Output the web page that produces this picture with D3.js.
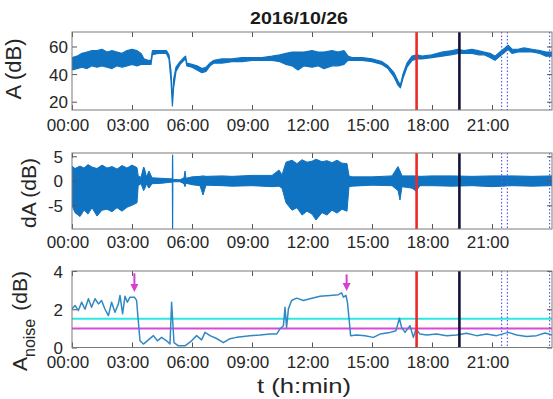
<!DOCTYPE html>
<html><head><meta charset="utf-8">
<script src="https://cdn.jsdelivr.net/npm/d3@7"></script>
<style>
body{margin:0;background:#fff}
svg{display:block}
text{font-family:"Liberation Sans",Arial,Helvetica,sans-serif}
</style>
</head><body>
<svg id="chart" width="553" height="399"></svg>
<script>
// ---------------- data ----------------
const title = "2016/10/26";
const timeTicks = [0, 3, 6, 9, 12, 15, 18, 21];
const timeTickLabels = ["00:00", "03:00", "06:00", "09:00", "12:00", "15:00", "18:00", "21:00"];
const aTicks = [20, 40, 60];
const dTicks = [-5, 0, 5];
const nTicks = [0, 2, 4];

// event markers (hours)
const markRed = 17.23;
const markBlack = 19.37;
const markDotted = [21.48, 21.77, 23.88];

// panel 1: sound level A (dB), envelope of the dense signal
const aTime = [0.00,0.25,0.50,0.75,1.00,1.25,1.50,1.75,2.00,2.25,2.50,2.75,3.00,3.25,3.45,3.60,3.80,3.95,4.02,4.30,4.55,4.72,4.85,4.95,5.02,5.08,5.20,5.40,5.60,5.68,5.74,6.00,6.25,6.50,6.70,6.90,7.10,7.50,8.00,8.50,9.00,9.50,10.00,10.40,10.70,11.00,11.30,11.60,12.00,12.30,12.60,13.00,13.30,13.60,13.80,14.00,14.50,15.00,15.50,15.80,16.10,16.30,16.42,16.55,16.75,17.00,17.25,17.50,18.00,18.50,19.00,19.30,19.60,20.00,20.30,20.60,20.90,21.15,21.40,21.65,21.80,22.00,22.30,22.60,23.00,23.40,23.70,24.00];
const aLow  = [43,44,45,44,46,45,46,45,44,46,45,46,47,46,47,47,47,47,54,55,55,55,51,35,17,30,42,47,50,51,46,45,43,41,42,46,48,48,49,49,50,50,50,49,47,46,43,46,45,46,44,46,46,47,50,50,50,49,47,44,38,32,30,37,45,50,51,51,52,53,54,55,55,55,54,54,52,50,53,56,58,55,56,56,56,55,53,53];
const aHigh = [52,53,55,56,57,57,58,56,57,56,55,57,58,57,55,51,50,50,57,57,57,57,54,42,19,36,45,49,52,53,48,47,46,44,45,48,50,51,51,52,52,52,53,54,55,56,56,56,57,56,56,57,56,57,53,52,52,51,49,46,41,35,32,40,48,53,54,53,54,56,57,58,57,58,57,56,55,53,56,59,61,58,58,59,58,57,56,56];

// panel 2: dA (dB), envelope
const dTime = [0.00,0.15,0.40,0.60,0.80,1.00,1.25,1.50,1.75,2.00,2.25,2.50,2.75,3.00,3.25,3.31,3.45,3.58,3.62,3.72,3.85,4.00,4.50,4.90,5.015,5.025,5.035,5.045,5.40,5.60,5.65,5.70,6.00,6.40,6.55,6.70,7.50,8.00,9.00,10.00,10.35,10.50,10.70,11.00,11.25,11.50,11.75,12.00,12.20,12.50,12.75,13.00,13.25,13.50,13.75,13.85,14.00,15.00,16.00,16.30,16.40,16.50,17.00,17.20,17.40,18.00,19.00,20.00,21.00,22.00,23.00,24.00];
const dLow  = [-5.0,-6.5,-7.3,-6.0,-6.8,-5.5,-7.2,-6.0,-5.8,-6.3,-5.5,-6.2,-5.4,-5.0,-4.5,-1.0,-0.6,-2.0,-1.8,-0.7,-1.5,-0.6,-0.5,-0.3,-0.3,-9.8,-9.8,-0.2,-0.2,-0.6,-1.2,-0.5,-0.8,-1.0,-2.9,-0.9,-1.0,-1.1,-1.0,-1.2,-1.1,-1.5,-4.5,-6.0,-5.5,-7.0,-6.2,-6.8,-8.0,-6.5,-7.0,-6.0,-6.6,-5.8,-6.2,-1.2,-1.1,-0.9,-1.0,-2.0,-3.9,-1.2,-1.5,-2.1,-1.0,-1.0,-1.1,-1.0,-1.2,-1.0,-1.1,-1.0];
const dHigh = [3.0,2.5,3.0,2.6,3.3,2.8,2.5,3.2,2.6,2.9,2.4,3.1,2.6,3.2,2.7,1.0,0.7,2.8,2.6,0.8,2.0,0.6,0.5,0.4,0.4,5.3,5.3,0.3,0.2,0.6,2.0,0.5,0.8,0.9,1.0,0.9,1.0,0.9,1.1,1.1,2.2,1.2,3.8,4.2,3.5,4.3,3.8,4.0,4.4,3.9,4.1,3.7,4.2,3.6,3.5,1.0,0.8,0.8,1.0,2.9,2.0,1.0,1.0,1.0,0.9,1.0,1.0,0.9,1.0,1.0,0.9,1.0];

// panel 3: A_noise (dB)
const nTime = [0.00,0.15,0.32,0.48,0.65,0.82,0.98,1.15,1.32,1.48,1.65,1.82,1.98,2.15,2.32,2.40,2.53,2.65,2.77,2.90,3.12,3.23,3.32,3.40,3.57,3.82,4.07,4.27,4.48,4.73,4.90,4.98,5.10,5.32,5.65,5.98,6.23,6.48,6.65,6.90,7.23,7.57,7.90,8.23,8.57,8.90,9.40,9.90,10.23,10.40,10.57,10.65,10.73,10.82,10.98,11.23,11.57,11.90,12.40,12.90,13.32,13.48,13.57,13.70,13.77,13.87,13.93,14.23,14.65,15.07,15.40,15.90,16.20,16.37,16.48,16.65,16.90,17.07,17.20,17.40,17.73,18.23,18.73,19.23,19.73,20.23,20.73,21.23,21.82,22.23,22.73,23.23,23.65,24.00];
const nVal  = [2.02,2.20,1.93,2.37,2.00,2.55,2.10,2.55,2.28,2.46,2.00,1.67,2.37,1.84,2.28,2.72,1.76,2.68,2.37,2.63,2.63,2.46,1.32,0.35,0.18,0.40,0.62,0.35,0.53,0.35,0.18,2.37,0.26,0.09,0.09,0.35,0.62,0.40,0.79,0.62,0.47,0.25,0.46,0.53,0.58,0.62,0.65,0.70,0.70,0.97,1.14,2.10,1.05,2.02,2.46,2.58,2.46,2.55,2.68,2.72,2.76,2.86,2.63,2.72,2.37,1.32,0.62,0.65,0.62,0.53,0.70,0.79,0.88,1.53,1.05,0.79,1.14,0.53,0.97,0.70,0.65,0.70,0.62,0.65,0.74,0.62,0.70,0.62,0.79,0.65,0.58,0.62,0.76,0.65];
const noiseLimitHigh = 1.5;
const noiseLimitLow = 1.0;
const arrowTime = [3.12, 13.73];
const arrowTail = [3.88, 3.82];
const arrowTip  = [2.90, 2.95];

// ---------------- drawing ----------------
const svg = d3.select("#chart");
const X0 = 72, X1 = 552;
const x = d3.scaleLinear().domain([0, 24]).range([X0, X1]);

const BLUE = "#0f73c2";
const FRAME = "#7a7a7a";
const TXT = "#262626";

const panels = [
  {top: 32,  bottom: 110, domain: [14, 70.5], ticks: aTicks, ylabX: 68, xlabY: 131},
  {top: 153, bottom: 229, domain: [-9.84, 5.67], ticks: dTicks, ylabX: 63, xlabY: 248},
  {top: 271, bottom: 347.5, domain: [0, 4], ticks: nTicks, ylabX: 63, xlabY: 368}
];

panels.forEach((p, i) => {
  p.y = d3.scaleLinear().domain(p.domain).range([p.bottom, p.top]);
  p.g = svg.append("g");
  svg.append("clipPath").attr("id", "clip" + i)
    .append("rect").attr("x", X0).attr("y", p.top).attr("width", X1 - X0).attr("height", p.bottom - p.top);
  p.plot = p.g.append("g").attr("clip-path", `url(#clip${i})`);
});

// panel 1 data
{
  const p = panels[0];
  const rows = aTime.map((t, k) => ({t, lo: aLow[k], hi: aHigh[k]}));
  p.plot.append("path").datum(rows)
    .attr("d", d3.area().x(d => x(d.t)).y0(d => p.y(d.lo)).y1(d => p.y(d.hi)))
    .attr("fill", BLUE).attr("stroke", BLUE).attr("stroke-width", 1.2).attr("stroke-linejoin", "round");
}
// panel 2 data
{
  const p = panels[1];
  const rows = dTime.map((t, k) => ({t, lo: dLow[k], hi: dHigh[k]}));
  p.plot.append("path").datum(rows)
    .attr("d", d3.area().x(d => x(d.t)).y0(d => p.y(d.lo)).y1(d => p.y(d.hi)))
    .attr("fill", BLUE).attr("stroke", BLUE).attr("stroke-width", 1).attr("stroke-linejoin", "round");
}
// panel 3 thresholds + line
{
  const p = panels[2];
  p.plot.append("line").attr("x1", X0).attr("x2", X1)
    .attr("y1", p.y(noiseLimitHigh)).attr("y2", p.y(noiseLimitHigh))
    .attr("stroke", "#2ee6e6").attr("stroke-width", 2);
  p.plot.append("line").attr("x1", X0).attr("x2", X1)
    .attr("y1", p.y(noiseLimitLow)).attr("y2", p.y(noiseLimitLow))
    .attr("stroke", "#d84ad8").attr("stroke-width", 2);
  p.plot.append("path").datum(nTime.map((t, k) => ({t, v: nVal[k]})))
    .attr("d", d3.line().x(d => x(d.t)).y(d => p.y(d.v)))
    .attr("fill", "none").attr("stroke", "#3189c4").attr("stroke-width", 1.5).attr("stroke-linejoin", "round");
}

// markers in every panel
panels.forEach(p => {
  markDotted.forEach(t => {
    p.plot.append("line").attr("x1", x(t)).attr("x2", x(t)).attr("y1", p.top).attr("y2", p.bottom)
      .attr("stroke", "#5c5ce8").attr("stroke-width", 1.2).attr("stroke-dasharray", "1.5,2");
  });
  p.plot.append("line").attr("x1", x(markRed)).attr("x2", x(markRed)).attr("y1", p.top).attr("y2", p.bottom)
    .attr("stroke", "#ea2a2a").attr("stroke-width", 2.6);
  p.plot.append("line").attr("x1", x(markBlack)).attr("x2", x(markBlack)).attr("y1", p.top).attr("y2", p.bottom)
    .attr("stroke", "#14143c").attr("stroke-width", 2.6);
});

// arrows in panel 3
{
  const p = panels[2];
  arrowTime.forEach((t, k) => {
    const xa = x(t), y0 = p.y(arrowTail[k]), y1 = p.y(arrowTip[k]);
    p.g.append("line").attr("x1", xa).attr("x2", xa).attr("y1", y0).attr("y2", y1 - 6)
      .attr("stroke", "#d63fcf").attr("stroke-width", 2);
    p.g.append("path")
      .attr("d", `M${xa - 4},${y1 - 8} L${xa + 4},${y1 - 8} L${xa},${y1} Z`)
      .attr("fill", "#d63fcf");
  });
}

// frames and axes
panels.forEach((p, i) => {
  const g = p.g;
  const bottomAx = g.append("g").attr("transform", `translate(0,${p.bottom})`)
    .call(d3.axisBottom(x).tickValues(timeTicks).tickSize(-5).tickFormat((d, k) => timeTickLabels[k]));
  const topAx = g.append("g").attr("transform", `translate(0,${p.top})`)
    .call(d3.axisTop(x).tickValues(timeTicks).tickSize(-5).tickFormat(""));
  const leftAx = g.append("g").attr("transform", `translate(${X0},0)`)
    .call(d3.axisLeft(p.y).tickValues(p.ticks).tickSize(-5).tickFormat(d => String(d)));
  const rightAx = g.append("g").attr("transform", `translate(${X1},0)`)
    .call(d3.axisRight(p.y).tickValues(p.ticks).tickSize(-5).tickFormat(""));
  [bottomAx, topAx, leftAx, rightAx].forEach(a => {
    a.select(".domain").remove();
    a.selectAll(".tick line").attr("stroke", "#555").attr("stroke-width", 1);
  });
  bottomAx.selectAll(".tick text")
    .attr("y", p.xlabY - p.bottom).attr("dy", 0).attr("x", -4.5)
    .attr("font-size", 17).attr("fill", TXT).attr("font-family", null);
  leftAx.selectAll(".tick text")
    .attr("x", p.ylabX - X0).attr("dy", "0.36em")
    .attr("font-size", 17).attr("fill", TXT).attr("font-family", null);
  g.append("rect").attr("x", X0).attr("y", p.top).attr("width", X1 - X0).attr("height", p.bottom - p.top)
    .attr("fill", "none").attr("stroke", FRAME).attr("stroke-width", 1);
});

// title
svg.append("text").attr("x", 299).attr("y", 24).attr("text-anchor", "middle")
  .attr("font-size", 16).attr("font-weight", "bold").attr("fill", "#1a1a1a")
  .attr("textLength", 98).attr("lengthAdjust", "spacingAndGlyphs")
  .text(title);

// y labels
svg.append("text").attr("transform", "translate(21,69) rotate(-90)").attr("text-anchor", "middle")
  .attr("font-size", 22).attr("fill", TXT)
  .text("A (dB)");
svg.append("text").attr("transform", "translate(36,193) rotate(-90)").attr("text-anchor", "middle")
  .attr("font-size", 21).attr("fill", TXT)
  .text("dA (dB)");
{
  const t = svg.append("text").attr("transform", "translate(27,371) rotate(-90)").attr("text-anchor", "start")
    .attr("font-size", 21).attr("fill", TXT);
  t.append("tspan").text("A");
  t.append("tspan").attr("font-size", 16).attr("dy", 8).text("noise");
  t.append("tspan").attr("dy", -8).attr("dx", 8).text("(dB)");
}
// x label
svg.append("text").attr("x", 304).attr("y", 393).attr("text-anchor", "middle")
  .attr("font-size", 21).attr("fill", TXT).attr("textLength", 94).attr("lengthAdjust", "spacingAndGlyphs")
  .text("t (h:min)");
</script>
</body></html>
